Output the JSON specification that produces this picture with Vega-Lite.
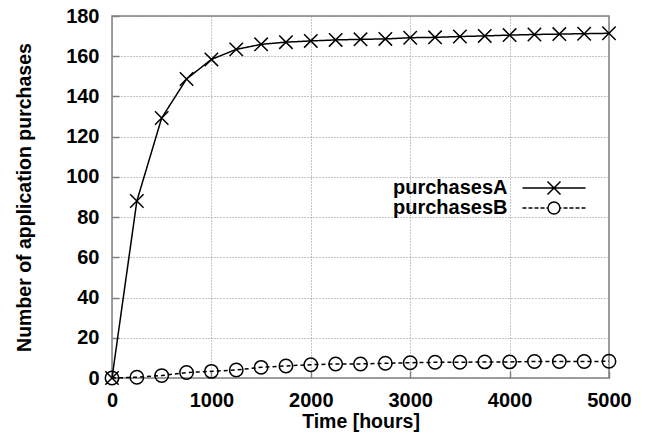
{
  "$schema": "https://vega.github.io/schema/vega-lite/v6.json",
  "width": 497,
  "height": 362,
  "autosize": {"type": "none"},
  "padding": {"left": 112, "top": 16, "right": 42, "bottom": 70},
  "background": "white",
  "config": {
    "font": "Liberation Sans",
    "view": {"stroke": "#808080", "strokeWidth": 1.5},
    "axis": {
      "labelFont": "Liberation Sans",
      "labelFontWeight": "bold",
      "labelFontSize": 20,
      "labelColor": "black",
      "titleFont": "Liberation Sans",
      "titleFontWeight": "bold",
      "titleFontSize": 19.5,
      "titleColor": "black",
      "ticks": true,
      "tickSize": -7,
      "tickColor": "#808080",
      "tickWidth": 1.5,
      "domain": false,
      "grid": true,
      "gridColor": "#8a8a8a",
      "gridDash": [1, 2],
      "gridWidth": 1
    },
    "legend": {
      "labelFont": "Liberation Sans",
      "labelFontWeight": "bold",
      "labelFontSize": 20,
      "labelColor": "black"
    }
  },
  "data": {
    "values": [
      {"t": 0, "v": 0, "series": "purchasesA"},
      {"t": 250, "v": 88, "series": "purchasesA"},
      {"t": 500, "v": 129.3, "series": "purchasesA"},
      {"t": 750, "v": 148.7, "series": "purchasesA"},
      {"t": 1000, "v": 158.4, "series": "purchasesA"},
      {"t": 1250, "v": 163.4, "series": "purchasesA"},
      {"t": 1500, "v": 165.9, "series": "purchasesA"},
      {"t": 1750, "v": 167, "series": "purchasesA"},
      {"t": 2000, "v": 167.6, "series": "purchasesA"},
      {"t": 2250, "v": 168.1, "series": "purchasesA"},
      {"t": 2500, "v": 168.4, "series": "purchasesA"},
      {"t": 2750, "v": 168.6, "series": "purchasesA"},
      {"t": 3000, "v": 169.2, "series": "purchasesA"},
      {"t": 3250, "v": 169.4, "series": "purchasesA"},
      {"t": 3500, "v": 169.8, "series": "purchasesA"},
      {"t": 3750, "v": 170.1, "series": "purchasesA"},
      {"t": 4000, "v": 170.5, "series": "purchasesA"},
      {"t": 4250, "v": 170.8, "series": "purchasesA"},
      {"t": 4500, "v": 171, "series": "purchasesA"},
      {"t": 4750, "v": 171.2, "series": "purchasesA"},
      {"t": 5000, "v": 171.4, "series": "purchasesA"},
      {"t": 0, "v": 0, "series": "purchasesB"},
      {"t": 250, "v": 0.4, "series": "purchasesB"},
      {"t": 500, "v": 1.2, "series": "purchasesB"},
      {"t": 750, "v": 2.7, "series": "purchasesB"},
      {"t": 1000, "v": 3.3, "series": "purchasesB"},
      {"t": 1250, "v": 4, "series": "purchasesB"},
      {"t": 1500, "v": 5.3, "series": "purchasesB"},
      {"t": 1750, "v": 6, "series": "purchasesB"},
      {"t": 2000, "v": 6.6, "series": "purchasesB"},
      {"t": 2250, "v": 7, "series": "purchasesB"},
      {"t": 2500, "v": 7, "series": "purchasesB"},
      {"t": 2750, "v": 7.3, "series": "purchasesB"},
      {"t": 3000, "v": 7.6, "series": "purchasesB"},
      {"t": 3250, "v": 7.8, "series": "purchasesB"},
      {"t": 3500, "v": 7.8, "series": "purchasesB"},
      {"t": 3750, "v": 8, "series": "purchasesB"},
      {"t": 4000, "v": 8, "series": "purchasesB"},
      {"t": 4250, "v": 8.2, "series": "purchasesB"},
      {"t": 4500, "v": 8.2, "series": "purchasesB"},
      {"t": 4750, "v": 8.2, "series": "purchasesB"},
      {"t": 5000, "v": 8.3, "series": "purchasesB"}
    ]
  },
  "encoding": {
    "x": {
      "field": "t",
      "type": "quantitative",
      "title": "Time [hours]",
      "scale": {"domain": [0, 5000], "nice": false},
      "axis": {"values": [0, 1000, 2000, 3000, 4000, 5000], "format": "d", "labelPadding": 19, "titlePadding": 2, "labelFlush": false}
    },
    "y": {
      "field": "v",
      "type": "quantitative",
      "title": "Number of application purchases",
      "scale": {"domain": [0, 180], "nice": false},
      "axis": {"values": [0, 20, 40, 60, 80, 100, 120, 140, 160, 180], "format": "d", "labelPadding": 20, "titlePadding": 31, "labelFlush": false}
    },
    "color": {
      "field": "series",
      "type": "nominal",
      "scale": {"range": ["black", "black"]},
      "legend": {
        "title": null,
        "orient": "none",
        "legendX": 432,
        "legendY": 162,
        "padding": 0,
        "rowPadding": 0,
        "symbolSize": 169,
        "symbolStrokeWidth": 1.5,
        "labelAlign": "right",
        "labelOffset": -56.5,
        "encode": {
          "symbols": {
            "update": {
              "shape": {"signal": "datum.value === 'purchasesA' ? 'M-4.85,0H4.85M-1,-1L1,1M-1,1L1,-1' : 'M-4.85,0H-4.23M-3.92,0H-3.31M-3,0H-2.38M-2.08,0H-1.46M-1.15,0H-0.92M0.92,0H1.15M1.46,0H2.08M2.38,0H3M3.31,0H3.92M4.23,0H4.85M0.92,0A0.92,0.92 0 1,1 -0.92,0A0.92,0.92 0 1,1 0.92,0Z'"},
              "fill": {"value": "transparent"},
              "stroke": {"value": "black"},
              "strokeWidth": {"value": 1.5},
              "opacity": {"value": 1}
            }
          }
        }
      }
    }
  },
  "layer": [
    {
      "mark": {"type": "line", "strokeWidth": 1.5},
      "encoding": {
        "strokeDash": {
          "field": "series",
          "type": "nominal",
          "scale": {"range": [[1, 0], [4, 3]]},
          "legend": null
        }
      }
    },
    {
      "mark": {"type": "point", "filled": false, "strokeWidth": 1.5, "opacity": 1},
      "encoding": {
        "shape": {
          "field": "series",
          "type": "nominal",
          "scale": {"range": ["M-1,-1L1,1M-1,1L1,-1", "circle"]},
          "legend": null
        },
        "size": {"value": 180}
      }
    }
  ]
}
